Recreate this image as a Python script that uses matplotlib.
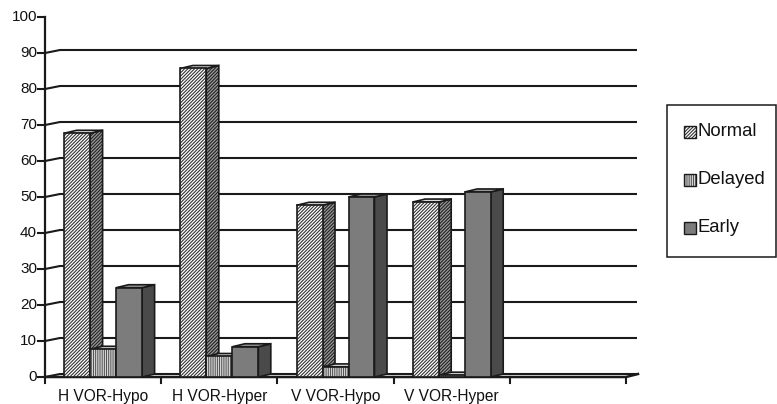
import matplotlib
matplotlib.use("Agg")
import matplotlib.pyplot as plt
from matplotlib.patches import Polygon, Rectangle

plt.rcParams['font.family'] = ['Liberation Sans', 'DejaVu Sans']
plt.rcParams['hatch.linewidth'] = 0.8

categories = ["H VOR-Hypo", "H VOR-Hyper", "V VOR-Hypo", "V VOR-Hyper"]
series_names = ["Normal", "Delayed", "Early"]
normal = [67.7, 85.7, 47.7, 48.6]
delayed = [7.7, 5.7, 2.8, 0.5]
early = [24.8, 8.4, 50.0, 51.4]
yticks = [0, 10, 20, 30, 40, 50, 60, 70, 80, 90, 100]

W, H = 777, 404
fig = plt.figure(figsize=(W / 100, H / 100), dpi=100)
# axes: x 0..5 -> px 45..626, y 0..100 -> px 377..17
x0p, x1p, y0p, y1p = 45, 626, 377, 17
ax = fig.add_axes([x0p / W, (H - y0p) / H, (x1p - x0p) / W, (y0p - y1p) / H])
n_slots = 5
ax.set_xlim(0, n_slots)
ax.set_ylim(0, 100)
ax.axis('off')

pxx = n_slots / (x1p - x0p)   # data units per px in x
pxy = 100 / (y0p - y1p)       # data units per px in y

EDGE = '#1a1a1a'
TXT = '#111111'
# wall depth and bar depth
wdx, wdy = 15 * pxx, 3 * pxy
bdx, bdy = 12.5 * pxx, 3 * pxy

# gridlines on the back wall
for v in yticks[:-1]:
    ax.plot([0, wdx, n_slots + 11 * pxx], [v, v + wdy, v + wdy], color=EDGE,
            lw=1.5, zorder=1, clip_on=False, solid_capstyle='butt')
# y axis line and ticks
ax.plot([0, 0], [0, 100], color=EDGE, lw=1.6, zorder=5, clip_on=False)
for v in yticks:
    ax.plot([-7 * pxx, 0], [v, v], color=EDGE, lw=1.5, zorder=5, clip_on=False)
    ax.annotate(str(v), xy=(0, v), xytext=(-8 * 0.72, 0), textcoords='offset points',
                ha='right', va='center', fontsize=11, color=TXT)
# floor front line and right edge
ax.plot([0, n_slots, n_slots + 12 * pxx], [0, 0, wdy], color=EDGE, lw=1.8,
        zorder=5, clip_on=False)
# category ticks
for i in range(n_slots + 1):
    ax.plot([i, i], [0, -6 * pxy], color=EDGE, lw=1.5, zorder=5, clip_on=False)
for i, c in enumerate(categories):
    ax.annotate(c, xy=(i + 0.5, 0), xytext=(0, -19 * 0.72), textcoords='offset points',
                ha='center', va='center', fontsize=11.2, color=TXT)

styles = [
    # front, side, top : (facecolor, hatch, hatchcolor)
    dict(front=('white', '//////////', '#333333'), side=('#9a9a9a', '//////////', '#222222'),
         top=('#dcdcdc', None, None)),
    dict(front=('white', '|||||||||', '#555555'), side=('#b5b5b5', '|||||||', '#444444'),
         top=('#d0d0d0', None, None)),
    dict(front=('#7c7c7c', None, None), side=('#4a4a4a', None, None),
         top=('#979797', None, None)),
]

bw = 26 * pxx


def face(verts, spec, z):
    fc, hatch, hc = spec
    if hatch:
        ax.add_patch(Polygon(verts, closed=True, facecolor=fc, hatch=hatch,
                             edgecolor=hc, lw=0, zorder=z, clip_on=False))
    else:
        ax.add_patch(Polygon(verts, closed=True, facecolor=fc, lw=0, zorder=z,
                             clip_on=False))
    ax.add_patch(Polygon(verts, closed=True, fill=False, edgecolor=EDGE, lw=1.2,
                         zorder=z + 0.01, clip_on=False, joinstyle='miter'))


data = [normal, delayed, early]
z = 10
for i in range(len(categories)):
    for s, vals in enumerate(data):
        v = vals[i]
        xl = i + 0.5 + (s - 1) * bw - bw / 2
        xr = xl + bw
        st = styles[s]
        side = [(xr, 0), (xr + bdx, bdy), (xr + bdx, v + bdy), (xr, v)]
        top = [(xl, v), (xr, v), (xr + bdx, v + bdy), (xl + bdx, v + bdy)]
        front = [(xl, 0), (xr, 0), (xr, v), (xl, v)]
        face(side, st['side'], z)
        face(top, st['top'], z + 0.1)
        face(front, st['front'], z + 0.2)
        z += 1


# legend box (figure pixels)
def fx(p):
    return p / W


def fy(p):
    return (H - p) / H


fig.patches.append(Rectangle((fx(667), fy(257)), fx(776) - fx(667), fy(105) - fy(257),
                             transform=fig.transFigure, fill=False, edgecolor=EDGE,
                             lw=1.1, figure=fig))
ly = [131.5, 180, 228]
for name, st, yc in zip(series_names, styles, ly):
    fc, hatch, hc = st['front']
    fig.patches.append(Rectangle((fx(684), fy(yc + 6)), fx(696) - fx(684), fy(yc - 6) - fy(yc + 6),
                                 transform=fig.transFigure, facecolor=fc, hatch=hatch,
                                 edgecolor=hc if hatch else fc, lw=0, figure=fig))
    fig.patches.append(Rectangle((fx(684), fy(yc + 6)), fx(696) - fx(684), fy(yc - 6) - fy(yc + 6),
                                 transform=fig.transFigure, fill=False, edgecolor=EDGE,
                                 lw=1.0, figure=fig))
    fig.text(fx(697.5), fy(yc), name, ha='left', va='center', fontsize=13.3, color=TXT)

fig.savefig('out.png', dpi=100)
